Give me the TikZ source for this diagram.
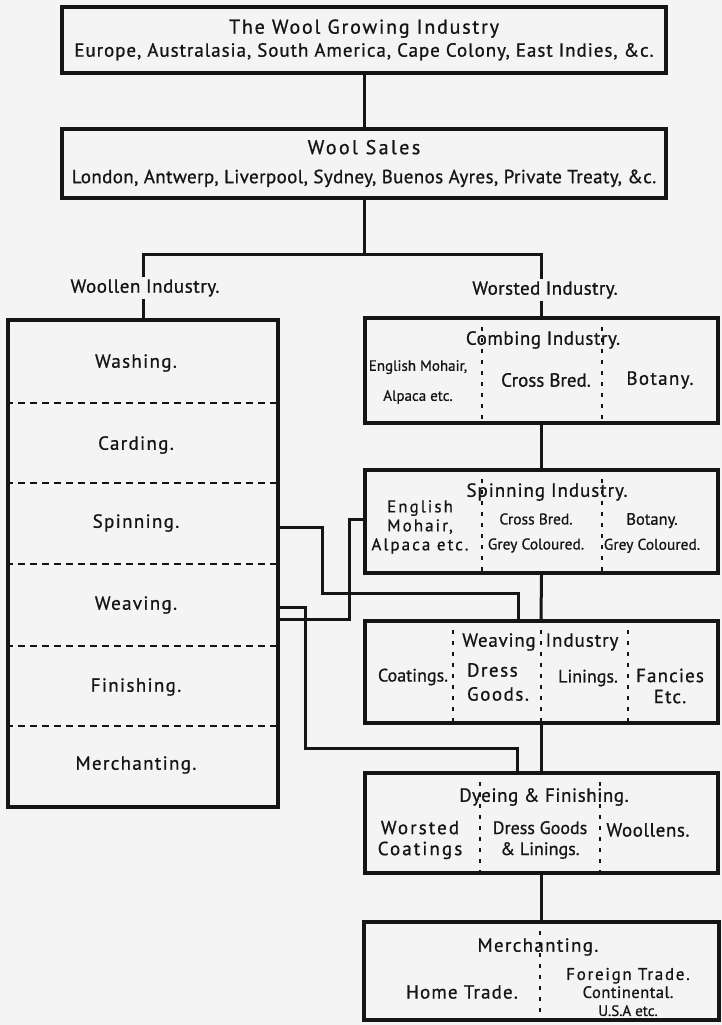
\documentclass[tikz,border=0pt]{standalone}
\usepackage{fontspec}
\setmainfont{PT Sans}[FakeBold=0.8]
\usetikzlibrary{positioning}
\definecolor{cink}{HTML}{151515}
\definecolor{cpaper}{HTML}{F4F4F4}
\newcommand\fs[2]{\fontsize{#1}{#2}\selectfont}
\newcommand\lsp[1]{\addfontfeature{LetterSpace=#1}}
\tikzset{
  every picture/.style={line width=2.4pt, color=cink},
  panel/.style={draw=cink, line width=4pt, inner sep=0pt},
  link/.style={draw=cink, line width=3pt},
  split/.style={draw=cink, line width=1.8pt, dash pattern=on 7pt off 5pt},
  part/.style={draw=cink, line width=1.7pt, dash pattern=on 4pt off 7pt},
  txt/.style={font=\fs{19}{23}, text=cink, align=center, inner sep=1pt},
}

\begin{document}
\begin{tikzpicture}[x=1pt, y=-1pt,
  row/.style={txt, font=\fs{19}{23}\lsp{7}}]
  \fill[cpaper] (0,0) rectangle (722,1025);
  \useasboundingbox (0,0) rectangle (722,1025);
  % growing and sales
  \node[panel, txt, minimum width=604pt, minimum height=66pt] (grow) at (364,40)
    {{\fs{20}{22}\lsp{9}The Wool Growing Industry}\\{\fs{19}{21}\lsp{5}Europe, Australasia, South America, Cape Colony, East Indies, \&c.}};
  \node[panel, txt, minimum width=604pt, minimum height=69pt] (sales) at (364,163.5)
    {{\fs{20}{22}\lsp{12}Wool Sales}\\[6pt]{\fs{19}{21}\lsp{2}London, Antwerp, Liverpool, Sydney, Buenos Ayres, Private Treaty, \&c.}};
  \draw[link] (grow.south) -- (sales.north);
  % the two branches
  \node[panel, minimum width=270pt, minimum height=487pt] (woollen) at (143,563.5) {};
  \node[panel, minimum width=353pt, minimum height=105pt] (comb) at (541.5,370.5) {};
  \coordinate (fork) at (364,254);
  \node[txt, font=\fs{19}{23}\lsp{3}] (wnlbl) at (145,288) {Woollen Industry.};
  \node[txt, font=\fs{19}{23}\lsp{2}] (wdlbl) at (545,290) {Worsted Industry.};
  \draw[link] (sales.south) -- (fork);
  \draw[link] (wnlbl.north -| woollen.north) |- (fork) -| (wdlbl.north -| comb.north);
  \draw[link] (wnlbl.south -| woollen.north) -- (woollen.north);
  \draw[link] (wdlbl.south -| comb.north) -- (comb.north);
  % woollen stages
  \foreach \y in {403,483,564,646,726}
    \draw[split] (woollen.west |- 0,\y) -- (woollen.east |- 0,\y);
  \foreach \y/\n/\t in {363/wash/Washing., 445/card/Carding., 523/spin/Spinning.,
      605/weave/Weaving., 687/finish/Finishing., 765/merch/Merchanting.}
    \node[row] (\n) at (136,\y) {\t};
  % worsted stages
  \node[panel, minimum width=353pt, minimum height=103pt] (spinw) at (541.5,521.5) {};
  \node[panel, minimum width=353pt, minimum height=102pt] (weavew) at (541,672) {};
  \node[panel, minimum width=353pt, minimum height=100pt] (dye) at (541,823) {};
  \node[panel, minimum width=355pt, minimum height=98pt] (sell) at (541,971) {};
  \foreach \a/\b in {comb/spinw, spinw/weavew, weavew/dye, dye/sell}
    \draw[link] (\a.south) -- (\b.north);
  \foreach \x in {482,602} {
    \draw[part] (\x,0 |- comb.north) -- (\x,0 |- comb.south);
    \draw[part] (\x,0 |- spinw.north) -- (\x,0 |- spinw.south);
  }
  \foreach \x in {453,541,628}
    \draw[part] (\x,0 |- weavew.north) -- (\x,0 |- weavew.south);
  \foreach \x in {480,600}
    \draw[part] (\x,0 |- dye.north) -- (\x,0 |- dye.south);
  \draw[part] (540,0 |- sell.north) -- (540,0 |- sell.south);
  % combing
  \node[txt, font=\fs{19}{23}\lsp{3}] (combhd) at (543,340) {Combing Industry.};
  \node[txt, font=\fs{15}{30}] (combeng) at (418,382) {English Mohair,\\Alpaca etc.};
  \node[txt] (combcross) at (546,380) {Cross Bred.};
  \node[txt, font=\fs{19}{23}\lsp{7}] (combbot) at (660,380) {Botany.};
  % spinning
  \node[txt, font=\fs{19}{23}\lsp{5}] (spinhd) at (547,492) {Spinning Industry.};
  \node[txt, font=\fs{17}{19}\lsp{12}] (spineng) at (420,527) {English\\Mohair,\\Alpaca etc.};
  \node[txt, font=\fs{15.5}{25}] (spincross) at (536,533) {Cross Bred.\\Grey Coloured.};
  \node[txt, font=\fs{16.5}{25}] (spinbot) at (652,533) {Botany.\\{\fs{15.5}{25}Grey Coloured.}};
  % weaving
  \node[txt, font=\fs{19}{23}\lsp{4}] (weavhd1) at (499,642) {Weaving};
  \node[txt, font=\fs{19}{23}\lsp{5}] (weavhd2) at (582,642) {Industry};
  \node[txt, font=\fs{18}{23}] (coat) at (413,677) {Coatings.};
  \node[txt, align=left, font=\fs{19}{24}\lsp{8}] (dress) at (498,682) {Dress\\Goods.};
  \node[txt, font=\fs{18}{23}] (lining) at (588,678) {Linings.};
  \node[txt, font=\fs{19}{21}\lsp{6}] (fancy) at (670,686) {Fancies\\Etc.};
  % dyeing and finishing
  \node[txt, font=\fs{19}{23}\lsp{3}] (dyehd) at (544,797) {Dyeing \& Finishing.};
  \node[txt, font=\fs{19}{21}\lsp{11}] (dyewst) at (420,840) {Worsted\\Coatings};
  \node[txt, font=\fs{18}{21}] (dyedress) at (540,840) {Dress Goods\\\& Linings.};
  \node[txt, font=\fs{19}{23}\lsp{3}] (dyewool) at (648,830) {Woollens.};
  % merchanting
  \node[txt, font=\fs{19}{23}\lsp{7}] (sellhd) at (538,947) {Merchanting.};
  \node[txt, font=\fs{19}{23}\lsp{6}] (home) at (462,992) {Home Trade.};
  \node[txt, font=\fs{17}{18}\lsp{10}] (abroad) at (628,992)
    {Foreign Trade.\\{\fs{16.5}{18}\lsp{3}Continental.}\\{\fs{15}{18}\lsp{0}U.S.A etc.}};
  % links across the branches
  \coordinate (j1a) at (322,593);
  \coordinate (j1b) at (518,593);
  \draw[link] (woollen.east |- 0,527) -| (j1a) -- (j1b) -- (j1b |- weavew.north);
  \coordinate (j2a) at (349,519);
  \coordinate (j2b) at (349,619);
  \draw[link] (spinw.west |- j2a) -- (j2a) -- (j2b) -- (woollen.east |- j2b);
  \coordinate (j3a) at (305,607);
  \coordinate (j3b) at (305,748);
  \coordinate (j3c) at (517,748);
  \draw[link] (woollen.east |- j3a) -- (j3a) -- (j3b) -- (j3c) -- (j3c |- dye.north);
\end{tikzpicture}
\end{document}
